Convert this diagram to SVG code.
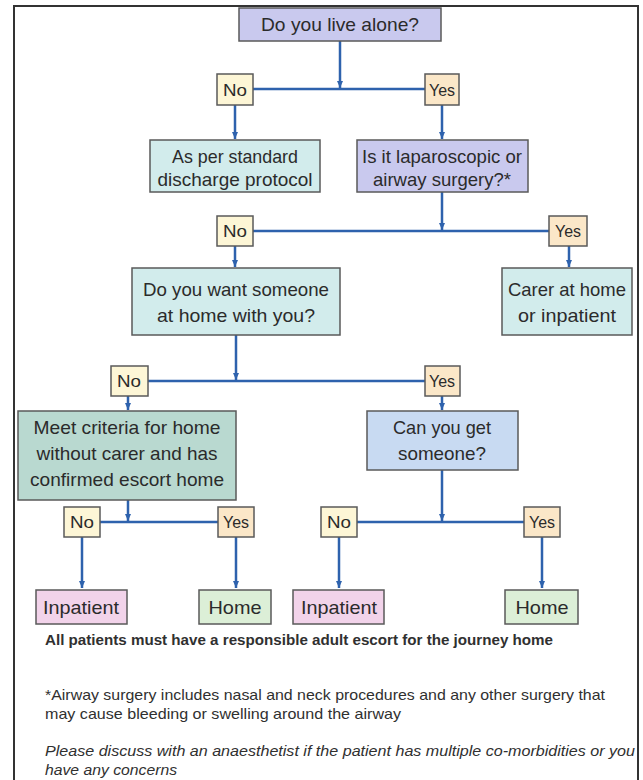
<svg xmlns="http://www.w3.org/2000/svg" width="643" height="780" viewBox="0 0 643 780">
<defs>
<marker id="arr" markerUnits="userSpaceOnUse" markerWidth="8" markerHeight="8" refX="7" refY="4" orient="auto">
<path d="M0,1 L7,4 L0,7 z" fill="#2e62ad"/>
</marker>
<style>
.bx{stroke:#5a5a5a;stroke-width:1.5}
.lav{fill:#c9c9ee}
.cy{fill:#d2ecec}
.tl{fill:#b9d9d0}
.bl{fill:#c8daf2}
.no{fill:#fdf6d6}
.yes{fill:#fbe7c8}
.pk{fill:#f2d3ea}
.gr{fill:#dcefd7}
.t{font-family:"Liberation Sans","Open Sans",sans-serif;font-size:19px;fill:#2b2b2b;text-anchor:middle}
.s{font-size:17px}
.n{font-family:"Liberation Sans",sans-serif;font-size:15px;fill:#303030}
.c{stroke:#2e62ad;stroke-width:2.5;fill:none}
</style>
</defs>
<rect x="0" y="0" width="643" height="780" fill="#ffffff"/>
<rect x="14" y="6" width="624" height="790" fill="none" stroke="#333" stroke-width="2"/>

<g id="connectors">
<path class="c" d="M340,41 V88" marker-end="url(#arr)"/>
<path class="c" d="M253,89 H425"/>
<path class="c" d="M235,105 V139" marker-end="url(#arr)"/>
<path class="c" d="M442,105 V139" marker-end="url(#arr)"/>
<path class="c" d="M442,192 V230" marker-end="url(#arr)"/>
<path class="c" d="M253,231 H549"/>
<path class="c" d="M235,246 V267" marker-end="url(#arr)"/>
<path class="c" d="M569,246 V267" marker-end="url(#arr)"/>
<path class="c" d="M236,335 V380" marker-end="url(#arr)"/>
<path class="c" d="M148,381 H425"/>
<path class="c" d="M128,396 V410" marker-end="url(#arr)"/>
<path class="c" d="M442,396 V410" marker-end="url(#arr)"/>
<path class="c" d="M128,500 V521" marker-end="url(#arr)"/>
<path class="c" d="M100,522 H218"/>
<path class="c" d="M442,470 V521" marker-end="url(#arr)"/>
<path class="c" d="M357,522 H524"/>
<path class="c" d="M82,537 V588" marker-end="url(#arr)"/>
<path class="c" d="M236,537 V588" marker-end="url(#arr)"/>
<path class="c" d="M339,537 V588" marker-end="url(#arr)"/>
<path class="c" d="M542,537 V588" marker-end="url(#arr)"/>
</g>

<g id="live-alone"><rect class="bx lav" x="239" y="8" width="202" height="33"/><text class="t" x="340" y="31" textLength="158" lengthAdjust="spacingAndGlyphs">Do you live alone?</text></g>
<g id="no1"><rect class="bx no" x="217" y="74" width="36" height="31"/><text class="t s" x="235" y="96" textLength="24" lengthAdjust="spacingAndGlyphs">No</text></g>
<g id="yes1"><rect class="bx yes" x="425" y="74" width="34" height="31"/><text class="t s" x="442" y="96" textLength="26" lengthAdjust="spacingAndGlyphs">Yes</text></g>
<g id="standard"><rect class="bx cy" x="150" y="140" width="170" height="52"/><text class="t" x="235" y="163" textLength="126" lengthAdjust="spacingAndGlyphs">As per standard</text><text class="t" x="235" y="186" textLength="155" lengthAdjust="spacingAndGlyphs">discharge protocol</text></g>
<g id="laparoscopic"><rect class="bx lav" x="357" y="140" width="171" height="52"/><text class="t" x="442" y="163" textLength="160" lengthAdjust="spacingAndGlyphs">Is it laparoscopic or</text><text class="t" x="442" y="186" textLength="138" lengthAdjust="spacingAndGlyphs">airway surgery?*</text></g>
<g id="no2"><rect class="bx no" x="217" y="216" width="36" height="30"/><text class="t s" x="235" y="237" textLength="24" lengthAdjust="spacingAndGlyphs">No</text></g>
<g id="yes2"><rect class="bx yes" x="549" y="216" width="38" height="30"/><text class="t s" x="568" y="237" textLength="26" lengthAdjust="spacingAndGlyphs">Yes</text></g>
<g id="want-someone"><rect class="bx cy" x="132" y="268" width="208" height="67"/><text class="t" x="236" y="296" textLength="186" lengthAdjust="spacingAndGlyphs">Do you want someone</text><text class="t" x="236" y="322" textLength="158" lengthAdjust="spacingAndGlyphs">at home with you?</text></g>
<g id="carer"><rect class="bx cy" x="502" y="268" width="130" height="67"/><text class="t" x="567" y="296" textLength="118" lengthAdjust="spacingAndGlyphs">Carer at home</text><text class="t" x="567" y="322" textLength="98" lengthAdjust="spacingAndGlyphs">or inpatient</text></g>
<g id="no3"><rect class="bx no" x="111" y="366" width="37" height="30"/><text class="t s" x="129" y="387" textLength="24" lengthAdjust="spacingAndGlyphs">No</text></g>
<g id="yes3"><rect class="bx yes" x="425" y="366" width="35" height="30"/><text class="t s" x="442" y="387" textLength="26" lengthAdjust="spacingAndGlyphs">Yes</text></g>
<g id="criteria"><rect class="bx tl" x="18" y="411" width="218" height="89"/><text class="t" x="127" y="434" textLength="187" lengthAdjust="spacingAndGlyphs">Meet criteria for home</text><text class="t" x="127" y="460" textLength="181" lengthAdjust="spacingAndGlyphs">without carer and has</text><text class="t" x="127" y="486" textLength="194" lengthAdjust="spacingAndGlyphs">confirmed escort home</text></g>
<g id="get-someone"><rect class="bx bl" x="367" y="411" width="151" height="59"/><text class="t" x="442" y="434" textLength="98" lengthAdjust="spacingAndGlyphs">Can you get</text><text class="t" x="442" y="460" textLength="88" lengthAdjust="spacingAndGlyphs">someone?</text></g>
<g id="no4"><rect class="bx no" x="64" y="507" width="36" height="30"/><text class="t s" x="82" y="528" textLength="24" lengthAdjust="spacingAndGlyphs">No</text></g>
<g id="yes4"><rect class="bx yes" x="218" y="507" width="36" height="30"/><text class="t s" x="236" y="528" textLength="26" lengthAdjust="spacingAndGlyphs">Yes</text></g>
<g id="no5"><rect class="bx no" x="321" y="507" width="36" height="30"/><text class="t s" x="339" y="528" textLength="24" lengthAdjust="spacingAndGlyphs">No</text></g>
<g id="yes5"><rect class="bx yes" x="524" y="507" width="36" height="30"/><text class="t s" x="542" y="528" textLength="26" lengthAdjust="spacingAndGlyphs">Yes</text></g>
<g id="inpatient1"><rect class="bx pk" x="36" y="590" width="91" height="34"/><text class="t" x="81" y="614" textLength="76" lengthAdjust="spacingAndGlyphs">Inpatient</text></g>
<g id="home1"><rect class="bx gr" x="199" y="590" width="72" height="34"/><text class="t" x="235" y="614" textLength="53" lengthAdjust="spacingAndGlyphs">Home</text></g>
<g id="inpatient2"><rect class="bx pk" x="293" y="590" width="91" height="34"/><text class="t" x="339" y="614" textLength="76" lengthAdjust="spacingAndGlyphs">Inpatient</text></g>
<g id="home2"><rect class="bx gr" x="505" y="590" width="73" height="34"/><text class="t" x="542" y="614" textLength="53" lengthAdjust="spacingAndGlyphs">Home</text></g>

<g id="notes">
<text class="n" x="45" y="645" font-weight="bold" textLength="508" lengthAdjust="spacingAndGlyphs">All patients must have a responsible adult escort for the journey home</text>
<text class="n" x="45" y="700" textLength="560" lengthAdjust="spacingAndGlyphs">*Airway surgery includes nasal and neck procedures and any other surgery that</text>
<text class="n" x="45" y="719" textLength="356" lengthAdjust="spacingAndGlyphs">may cause bleeding or swelling around the airway</text>
<text class="n" x="45" y="756" font-style="italic" textLength="590" lengthAdjust="spacingAndGlyphs">Please discuss with an anaesthetist if the patient has multiple co-morbidities or you</text>
<text class="n" x="45" y="775" font-style="italic" textLength="132" lengthAdjust="spacingAndGlyphs">have any concerns</text>
</g>
</svg>
